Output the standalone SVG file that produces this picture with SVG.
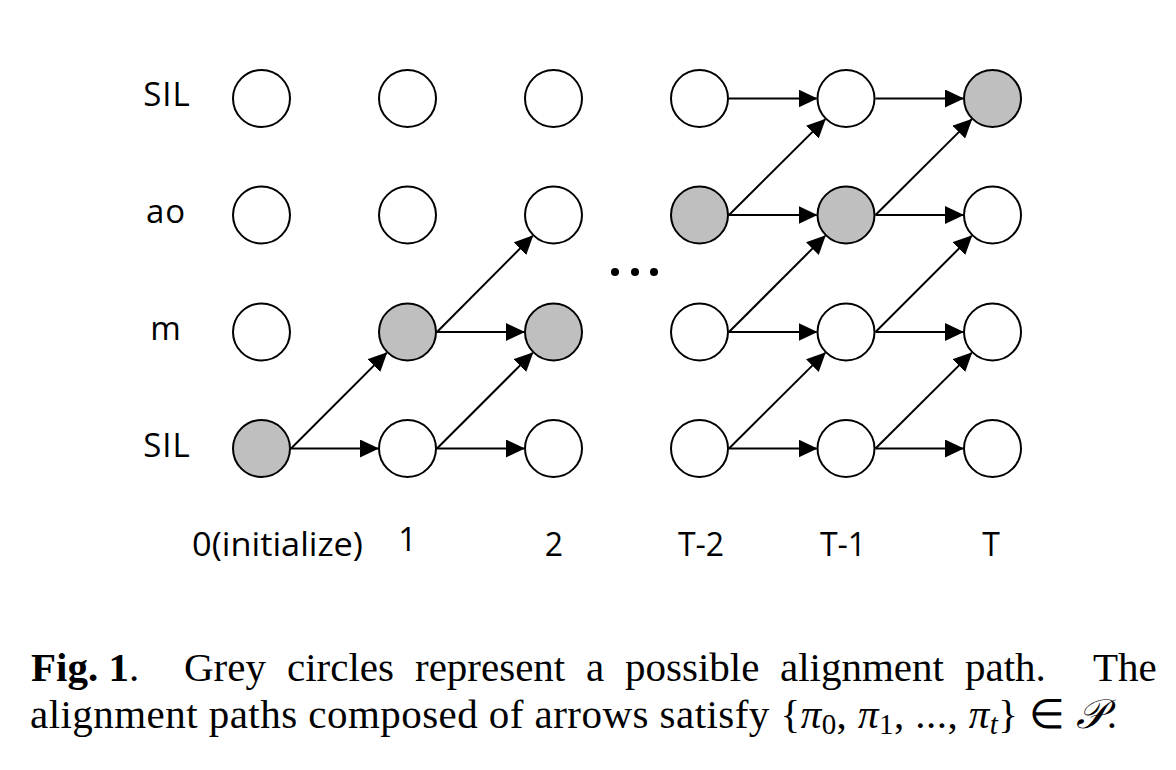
<svg xmlns="http://www.w3.org/2000/svg" width="1176" height="770" viewBox="0 0 1176 770">
<style>
.node{fill:#ffffff;stroke:#000000;stroke-width:2}
.grey{fill:#bfbfbf}
.lbl{font-family:"Open Sans","Liberation Sans",sans-serif;font-size:32px;fill:#000000}
.row{font-size:33px;letter-spacing:1px}
.edge{fill:none;stroke:#000000;stroke-width:2;marker-end:url(#ah)}
.cap{font-family:"Liberation Serif","Times New Roman",serif;font-size:41px;fill:#000000}
</style>
<defs>
<marker id="ah" markerUnits="userSpaceOnUse" markerWidth="19" markerHeight="18" refX="18" refY="9" orient="auto">
<path d="M0,0 L19,9 L0,18 Z" fill="#000000"/>
</marker>
</defs>
<rect width="1176" height="770" fill="#ffffff"/>

<g id="row-labels">
<text class="lbl row" x="167" y="106" text-anchor="middle">SIL</text>
<text class="lbl row" x="166" y="223" text-anchor="middle">ao</text>
<text class="lbl row" x="166" y="340" text-anchor="middle">m</text>
<text class="lbl row" x="167" y="457" text-anchor="middle">SIL</text>
</g>

<g id="col-labels">
<text class="lbl" x="192" y="556" textLength="171" lengthAdjust="spacingAndGlyphs">0(initialize)</text>
<text class="lbl" x="407.5" y="551" text-anchor="middle">1</text>
<text class="lbl" x="554" y="556" text-anchor="middle">2</text>
<text class="lbl" x="701" y="556" text-anchor="middle">T-2</text>
<text class="lbl" x="843" y="556" text-anchor="middle">T-1</text>
<text class="lbl" x="991" y="556" text-anchor="middle">T</text>
</g>

<g id="nodes">
<g id="n0-3"><circle class="node" cx="261.5" cy="98.5" r="28.5"/></g>
<g id="n0-2"><circle class="node" cx="261.5" cy="215" r="28.5"/></g>
<g id="n0-1"><circle class="node" cx="261.5" cy="332" r="28.5"/></g>
<g id="n0-0"><circle class="node grey" cx="261.5" cy="448.5" r="28.5"/></g>

<g id="n1-3"><circle class="node" cx="407.5" cy="98.5" r="28.5"/></g>
<g id="n1-2"><circle class="node" cx="407.5" cy="215" r="28.5"/></g>
<g id="n1-1"><circle class="node grey" cx="407.5" cy="332" r="28.5"/></g>
<g id="n1-0"><circle class="node" cx="407.5" cy="448.5" r="28.5"/></g>

<g id="n2-3"><circle class="node" cx="553.5" cy="98.5" r="28.5"/></g>
<g id="n2-2"><circle class="node" cx="553.5" cy="215" r="28.5"/></g>
<g id="n2-1"><circle class="node grey" cx="553.5" cy="332" r="28.5"/></g>
<g id="n2-0"><circle class="node" cx="553.5" cy="448.5" r="28.5"/></g>

<g id="n3-3"><circle class="node" cx="699.5" cy="98.5" r="28.5"/></g>
<g id="n3-2"><circle class="node grey" cx="699.5" cy="215" r="28.5"/></g>
<g id="n3-1"><circle class="node" cx="699.5" cy="332" r="28.5"/></g>
<g id="n3-0"><circle class="node" cx="699.5" cy="448.5" r="28.5"/></g>

<g id="n4-3"><circle class="node" cx="846" cy="98.5" r="28.5"/></g>
<g id="n4-2"><circle class="node grey" cx="846" cy="215" r="28.5"/></g>
<g id="n4-1"><circle class="node" cx="846" cy="332" r="28.5"/></g>
<g id="n4-0"><circle class="node" cx="846" cy="448.5" r="28.5"/></g>

<g id="n5-3"><circle class="node grey" cx="992.5" cy="98.5" r="28.5"/></g>
<g id="n5-2"><circle class="node" cx="992.5" cy="215" r="28.5"/></g>
<g id="n5-1"><circle class="node" cx="992.5" cy="332" r="28.5"/></g>
<g id="n5-0"><circle class="node" cx="992.5" cy="448.5" r="28.5"/></g>
</g>

<g id="ellipsis" fill="#000000">
<circle cx="615" cy="272" r="4"/>
<circle cx="635" cy="272" r="4"/>
<circle cx="654" cy="272" r="4"/>
</g>

<g id="connectors">
<path class="edge" d="M291,448.5 L378,448.5"/>
<path class="edge" d="M291,448.5 L386.6,352.9"/>
<path class="edge" d="M437,448.5 L524,448.5"/>
<path class="edge" d="M437,448.5 L532.6,352.9"/>
<path class="edge" d="M437,332 L524,332"/>
<path class="edge" d="M437,332 L532.6,235.9"/>

<path class="edge" d="M729,98.5 L816.5,98.5"/>
<path class="edge" d="M729,215 L816.5,215"/>
<path class="edge" d="M729,215 L825.1,119.4"/>
<path class="edge" d="M729,332 L816.5,332"/>
<path class="edge" d="M729,332 L825.1,235.9"/>
<path class="edge" d="M729,448.5 L816.5,448.5"/>
<path class="edge" d="M729,448.5 L825.1,352.9"/>

<path class="edge" d="M875.5,98.5 L963,98.5"/>
<path class="edge" d="M875.5,215 L963,215"/>
<path class="edge" d="M875.5,215 L971.6,119.4"/>
<path class="edge" d="M875.5,332 L963,332"/>
<path class="edge" d="M875.5,332 L971.6,235.9"/>
<path class="edge" d="M875.5,448.5 L963,448.5"/>
<path class="edge" d="M875.5,448.5 L971.6,352.9"/>
</g>

<g id="caption">
<text class="cap" x="31" y="681"><tspan font-weight="bold">Fig. 1</tspan>.</text>
<text class="cap" x="184" y="681">Grey</text>
<text class="cap" x="287" y="681">circles</text>
<text class="cap" x="415" y="681">represent</text>
<text class="cap" x="586" y="681">a</text>
<text class="cap" x="625" y="681">possible</text>
<text class="cap" x="780" y="681">alignment</text>
<text class="cap" x="965" y="681">path.</text>
<text class="cap" x="1093" y="681">The</text>
<text class="cap" x="30" y="728" textLength="1087" lengthAdjust="spacing">alignment paths composed of arrows satisfy {<tspan font-style="italic">π</tspan><tspan font-size="29" dy="6">0</tspan><tspan dy="-6">, </tspan><tspan font-style="italic">π</tspan><tspan font-size="29" dy="6">1</tspan><tspan dy="-6">, ..., </tspan><tspan font-style="italic">π</tspan><tspan font-size="29" font-style="italic" dy="6">t</tspan><tspan dy="-6">} ∈ </tspan><tspan font-family="DejaVu Serif, serif" font-style="italic">𝒫</tspan>.</text>
</g>
</svg>
